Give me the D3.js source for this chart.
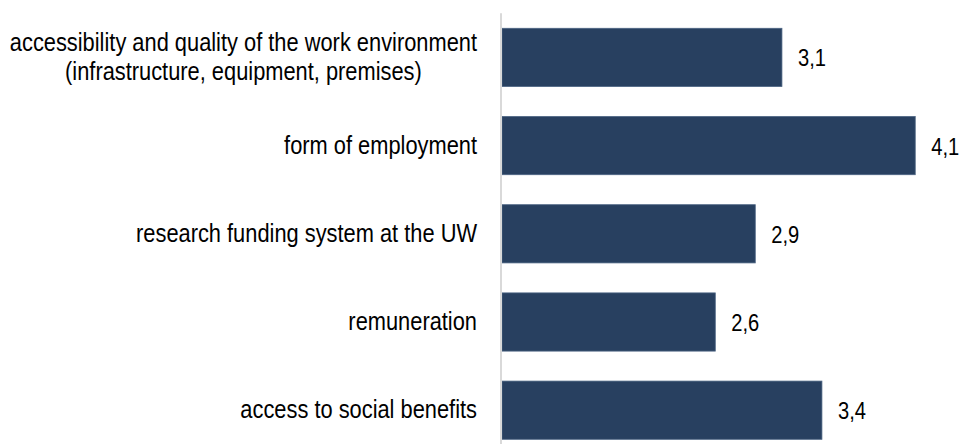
<!DOCTYPE html>
<html>
<head>
<meta charset="utf-8">
<script src="https://cdn.jsdelivr.net/npm/d3@7"></script>
<style>
  html, body { margin: 0; padding: 0; background: #ffffff; }
  svg text { font-family: "Liberation Sans", Arial, sans-serif; fill: #000000; }
</style>
</head>
<body>
<svg id="chart" width="961" height="444"></svg>
<script>
// Mean ratings (scale 1–5) of working-condition aspects
const categories = [
  ["accessibility and quality of the work environment", "(infrastructure, equipment, premises)"],
  ["form of employment"],
  ["research funding system at the UW"],
  ["remuneration"],
  ["access to social benefits"]
];
const values = [3.1, 4.1, 2.9, 2.6, 3.4];
const valueLabels = ["3,1", "4,1", "2,9", "2,6", "3,4"];

const W = 961, H = 444;
// horizontal squeeze that gives the sans face a narrow look
const NARROW = 0.84;
const svg = d3.select("#chart");

const keys = categories.map((c, i) => i);

const x = d3.scaleLinear().domain([1, 5]).range([502, 502 + 4 * 133.3]);
const y = d3.scaleBand().domain(keys).range([13.3, 454.3]).paddingInner(0.34).paddingOuter(0.17);

// bars
svg.append("g").selectAll("rect").data(keys).join("rect")
  .attr("x", x(1))
  .attr("y", i => y(i))
  .attr("width", i => x(values[i]) - x(1))
  .attr("height", y.bandwidth())
  .attr("fill", "#284060")
  .attr("stroke", "#4c6483")
  .attr("stroke-width", 0.8);

// vertical category axis line
svg.append("line")
  .attr("x1", 501).attr("x2", 501)
  .attr("y1", 13.3).attr("y2", H)
  .attr("stroke", "#d9d9d9")
  .attr("stroke-width", 2);

// category labels: the block is right-aligned against the axis,
// lines inside a wrapped label are centred on each other
const lineGap = 28.4;
const catG = svg.append("g").selectAll("text").data(keys).join("text")
  .attr("font-size", 26)
  .attr("transform", i => `translate(477, ${y(i) + y.bandwidth() / 2}) scale(${NARROW}, 1)`);
catG.each(function (i) {
  const lines = categories[i];
  const t = d3.select(this);
  const spans = lines.map((ln, k) =>
    t.append("tspan")
      .attr("y", (k - (lines.length - 1) / 2) * lineGap + 8)
      .text(ln));
  const maxW = d3.max(spans, s => s.node().getComputedTextLength());
  spans.forEach(s => s.attr("text-anchor", "middle").attr("x", -maxW / 2));
});

// value labels
svg.append("g").selectAll("text").data(keys).join("text")
  .attr("transform", i => `translate(${x(values[i]) + 16}, ${y(i) + y.bandwidth() / 2 + 9}) scale(${NARROW}, 1)`)
  .attr("font-size", 24)
  .text(i => valueLabels[i]);
</script>
</body>
</html>
